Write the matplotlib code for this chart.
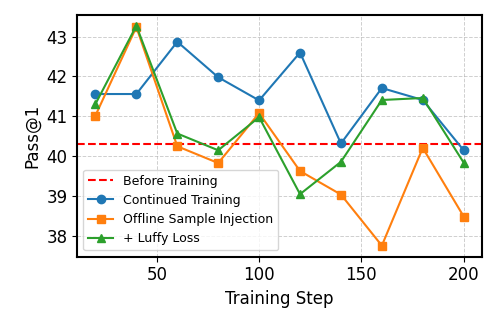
import matplotlib
matplotlib.use("Agg")
import matplotlib.pyplot as plt
from matplotlib.ticker import MultipleLocator

steps = [20, 40, 60, 80, 100, 120, 140, 160, 180, 200]
continued = [41.56, 41.56, 42.87, 41.98, 41.40, 42.60, 40.32, 41.71, 41.41, 40.15]
offline = [41.02, 43.24, 40.25, 39.83, 41.08, 39.63, 39.04, 37.76, 40.21, 38.49]
luffy = [41.31, 43.27, 40.57, 40.15, 40.98, 39.05, 39.86, 41.41, 41.46, 39.84]
before_training = 40.31

fig, ax = plt.subplots(figsize=(4.97, 3.29), dpi=100)
ax.axhline(before_training, color="red", linestyle="--", linewidth=1.5, label="Before Training")
ax.plot(steps, continued, marker="o", markersize=6, linewidth=1.5, color="#1f77b4", label="Continued Training")
ax.plot(steps, offline, marker="s", markersize=6, linewidth=1.5, color="#ff7f0e", label="Offline Sample Injection")
ax.plot(steps, luffy, marker="^", markersize=6, linewidth=1.5, color="#2ca02c", label="+ Luffy Loss")

ax.xaxis.set_major_locator(MultipleLocator(50))
ax.grid(True, linestyle="--", alpha=0.6, linewidth=0.7)
ax.set_xlabel("Training Step", fontsize=12)
ax.set_ylabel("Pass@1", fontsize=12)
ax.tick_params(labelsize=12)
for s in ax.spines.values():
    s.set_linewidth(1.5)
ax.legend(loc="lower left", fontsize=9)
fig.subplots_adjust(left=0.155, right=0.97, bottom=0.22, top=0.955)
fig.savefig("out.png", dpi=100)
